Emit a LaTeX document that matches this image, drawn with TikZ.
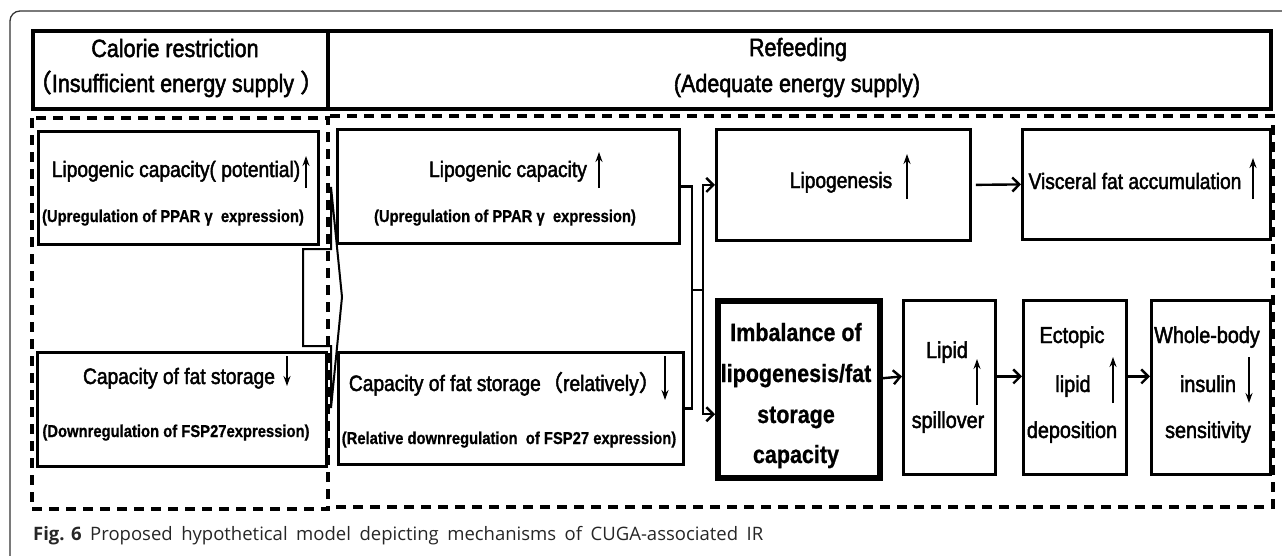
\documentclass[tikz,border=0pt]{standalone}
\usepackage{fontspec}
\setmainfont{Liberation Sans}[FakeStretch=0.86]
\newfontfamily\rgf{Liberation Sans}[FakeStretch=0.86, FakeBold=2]
\newfontfamily\bdf{Liberation Sans Bold}[FakeStretch=0.86, FakeBold=0.8]
\newfontfamily\cjk{Noto Sans CJK SC}[FakeBold=2]
\newfontfamily\capfont{Open Sans}
\usetikzlibrary{arrows.meta,calc}
\tikzset{
  hdr/.style={draw, line width=3.6pt, inner sep=0pt, anchor=north west},
  bx/.style={draw, line width=2.8pt, inner sep=0pt, anchor=north west},
  bxthick/.style={draw, line width=5.5pt, inner sep=0pt, anchor=north west},
  dsh/.style={line width=3.2pt, dash pattern=on 10pt off 7pt},
  ln/.style={line width=2.2pt},
  arr/.style={line width=2.4pt, -{Straight Barb[length=7pt,width=14pt]}},
  updn/.style={line width=2pt, -{Stealth[length=10pt,width=7pt]}},
  th/.style={font=\rgf\fontsize{25}{30}\selectfont, inner sep=0pt, anchor=base},
  tm/.style={font=\rgf\fontsize{22.3}{26}\selectfont, inner sep=0pt, anchor=base},
  tb/.style={font=\bdf\fontsize{17.2}{21}\selectfont, inner sep=0pt, anchor=base},
  tim/.style={font=\bdf\fontsize{25}{30}\selectfont, inner sep=0pt, anchor=base},
  tl/.style={font=\rgf\fontsize{23}{27}\selectfont, inner sep=0pt, anchor=base},
}
\begin{document}
\begin{tikzpicture}[x=1pt,y=-1pt]
\useasboundingbox (0,0) rectangle (1282,555);
% outer frame
\draw[line width=1.3pt, black!80, rounded corners=10pt] (10,556) -- (10,11) -- (1283,11);

% headers
\node[hdr, minimum width=295pt, minimum height=78pt] (hL) at (31,29) {};
\node[hdr, minimum width=943pt, minimum height=78pt] (hR) at (326,29) {};
\node[th] (hLt1) at (175,57) {Calorie restriction};
\node[th] (hLt2) at (176,92) {{\cjk （}Insufficient energy supply {\cjk ）}};
\node[th] (hRt1) at (798,56) {Refeeding};
\node[th] (hRt2) at (797,92) {(Adequate energy supply)};

% dashed panels
\draw[dsh] (32,118) rectangle (328,509);
\draw[dsh] (330,116) -- (1273,116) -- (1273,507) -- (330,507);

% left panel boxes
\node[bx, minimum width=280pt, minimum height=113pt] (L1) at (37,130) {};
\node[tm] (L1a) at (176,177) {Lipogenic capacity( potential)};
\node[tb] (L1b) at (173,222) {(Upregulation of PPAR γ~ expression)};
\draw[updn] (306,188) -- (306,156);

\node[bx, minimum width=289pt, minimum height=114pt] (L2) at (36,351) {};
\node[tm] (L2a) at (179,384) {Capacity of fat storage};
\node[tb] (L2b) at (176,437) {(Downregulation of FSP27expression)};
\draw[updn] (287,356) -- (287,386);

% hollow arrow
\draw[line width=2pt, line join=miter] (303,249) -- (331,249) -- (331,187) -- (342,297) -- (331,408) -- (331,346) -- (303,346) -- cycle;

% middle boxes
\node[bx, minimum width=342pt, minimum height=114pt] (M1) at (336,128) {};
\node[tm] (M1a) at (508,177) {Lipogenic capacity};
\node[tb] (M1b) at (505,222) {(Upregulation of PPAR γ~ expression)};
\draw[updn] (599,188) -- (599,152);

\node[bx, minimum width=345pt, minimum height=112pt] (M2) at (337,351) {};
\node[tm] (M2a) at (505,391) {Capacity of fat storage{\cjk （}relatively{\cjk ）}};
\node[tb] (M2b) at (509,444) {(Relative downregulation~ of FSP27 expression)};
\draw[updn] (665,356) -- (665,400);

% right upper boxes
\node[bx, minimum width=254pt, minimum height=111pt] (Lg) at (715,128) {};
\node[tm] (Lga) at (841,188) {Lipogenesis};
\draw[updn] (907,199) -- (907,154);

\node[bx, minimum width=248pt, minimum height=110pt] (Vf) at (1021,128) {};
\node[tm] (Vfa) at (1135,189) {Visceral fat accumulation};
\draw[updn] (1253,199) -- (1253,158);

% right lower boxes
\node[bxthick, minimum width=162pt, minimum height=177pt] (Im) at (715,298) {};
\node[tim] (Ima) at (796,341) {Imbalance of};
\node[tim] (Imb) at (796,382) {lipogenesis/fat};
\node[tim] (Imc) at (796,423) {storage};
\node[tim] (Imd) at (796,463) {capacity};

\node[bx, minimum width=92pt, minimum height=174pt] (Ls) at (902,299) {};
\node[tl] (Lsa) at (947,358) {Lipid};
\node[tl] (Lsb) at (948,428) {spillover};
\draw[updn] (977,405) -- (977,359);

\node[bx, minimum width=103pt, minimum height=174pt] (Ec) at (1022,299) {};
\node[tl] (Eca) at (1072,343) {Ectopic};
\node[tl] (Ecb) at (1073,392) {lipid};
\node[tl] (Ecc) at (1072,438) {deposition};
\draw[updn] (1113,403) -- (1113,357);

\node[bx, minimum width=119pt, minimum height=174pt] (Wb) at (1150,299) {};
\node[tl] (Wba) at (1207,343) {Whole-body};
\node[tl] (Wbb) at (1208,392) {insulin};
\node[tl] (Wbc) at (1208,438) {sensitivity};
\draw[updn] (1249,357) -- (1249,403);

% connectors
\coordinate (jA) at (692,290);
\coordinate (jB) at (703,290);
\draw[ln] (M1.east) -| (jA);
\draw[ln] (M2.east) -| (jA);
\draw[ln] (jA) -- (jB);
\draw[arr] (jB) |- (Lg.west);
\draw[arr] (jB) |- ([yshift=-25pt]Im.west);
\draw[arr, shorten <=4pt] (Lg.east) -- (Vf.west);
\draw[arr] ([yshift=11pt]Im.east) -- ([yshift=11pt]Ls.west);
\draw[arr] ([yshift=11pt]Ls.east) -- ([yshift=11pt]Ec.west);
\draw[arr] ([yshift=11pt]Ec.east) -- ([yshift=11pt]Wb.west);

% caption
\node[anchor=base west, inner sep=0pt, text=black!85, font=\capfont\fontsize{18.5}{22}\selectfont] (cap) at (33,540)
  {\makebox[730pt][s]{\textbf{\mbox{Fig. 6}} Proposed hypothetical model depicting mechanisms of CUGA-associated IR}};
\end{tikzpicture}
\end{document}
